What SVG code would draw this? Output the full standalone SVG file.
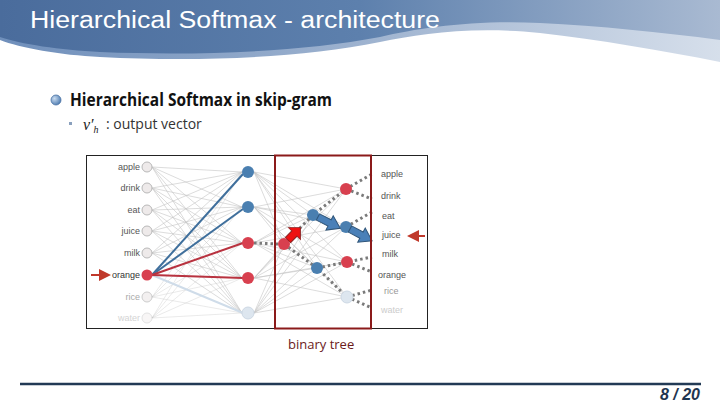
<svg xmlns="http://www.w3.org/2000/svg" width="720" height="405" viewBox="0 0 720 405">
<defs>
<linearGradient id="hdr" x1="0" y1="0" x2="1" y2="0">
<stop offset="0" stop-color="#4a6c9c"/><stop offset="0.5" stop-color="#5d80ad"/><stop offset="1" stop-color="#a9bad2"/>
</linearGradient>
<linearGradient id="hdr2" x1="0" y1="0" x2="1" y2="0">
<stop offset="0" stop-color="#6f8fbb"/><stop offset="0.5" stop-color="#9db2cf"/><stop offset="1" stop-color="#d6dfeb"/>
</linearGradient>
<radialGradient id="bul" cx="0.35" cy="0.35" r="0.7">
<stop offset="0" stop-color="#c9dcf0"/><stop offset="1" stop-color="#4d7bb0"/>
</radialGradient>
<marker id="rarrow" markerWidth="6" markerHeight="6" refX="5" refY="3" orient="auto" markerUnits="strokeWidth">
<path d="M0,0 L6,3 L0,6 Z" fill="#c0392b"/>
</marker>
<polygon id="fat" points="0,-3.5 13,-3.5 13,-8 25,0 13,8 13,3.5 0,3.5"/>
</defs>
<style>
.in{fill:#eeeaea;stroke:#b8b8b8;stroke-width:1}
.lbl{font-family:"Liberation Sans",Arial,sans-serif;font-size:9px;fill:#555}
.blue{fill:#4a7fb0}
.red{fill:#d8404f}
.light{fill:#dde6ef;stroke:#cdd8e4;stroke-width:1}
.mesh{stroke:#c4c4c4;stroke-width:0.6;fill:none}
.dot{stroke:#7a7a7a;stroke-width:3;stroke-dasharray:2.5 3;fill:none}
</style>
<rect width="720" height="405" fill="#fff"/>
<!-- header -->
<path d="M0,0 H720 V62 C660,50 600,40 540,33 C470,26 420,34 380,42 C300,58 200,62 100,57 C60,55 20,48 0,40 Z" fill="url(#hdr2)"/>
<path d="M0,0 H720 V40 C660,32 600,26 540,23 C470,20 420,28 380,37 C300,52 200,56 100,52 C60,50 20,44 0,37 Z" fill="url(#hdr)"/>
<text x="30" y="28" font-family="Liberation Sans,Arial,sans-serif" font-size="23" fill="#fff" textLength="410" lengthAdjust="spacingAndGlyphs">Hierarchical Softmax - architecture</text>
<!-- bullets -->
<circle cx="56" cy="100" r="5" fill="url(#bul)" stroke="#4a72a5" stroke-width="0.8"/>
<text x="70" y="106" font-family="'Open Sans','Noto Sans',sans-serif" font-weight="bold" font-size="18" fill="#111" textLength="262" lengthAdjust="spacingAndGlyphs">Hierarchical Softmax in skip-gram</text>
<rect x="69" y="122" width="3" height="3" fill="#8aa0bd"/>
<text x="83" y="130" font-family="'Liberation Serif',serif" font-style="italic" font-size="16" fill="#222">v′<tspan font-size="10" dy="3">h</tspan></text>
<text x="106" y="129" font-family="'Open Sans','Noto Sans',sans-serif" font-size="14" fill="#333">: output vector</text>
<!-- figure frame -->
<rect x="86.5" y="155.5" width="341" height="173" fill="#fff" stroke="#222" stroke-width="1"/>
<!-- connectors -->
<g id="connectors">
<path class="mesh" d="M152,167 L242,172 M152,167 L242,207 M152,167 L242,243 M152,167 L242,278 M152,167 L242,313
M152,188 L242,172 M152,188 L242,207 M152,188 L242,243 M152,188 L242,278 M152,188 L242,313
M152,210 L242,172 M152,210 L242,207 M152,210 L242,243 M152,210 L242,278 M152,210 L242,313
M152,231 L242,172 M152,231 L242,207 M152,231 L242,243 M152,231 L242,278 M152,231 L242,313
M152,253 L242,172 M152,253 L242,207 M152,253 L242,243 M152,253 L242,278 M152,253 L242,313"/>
<path class="mesh" opacity="0.6" d="M152,297 L242,172 M152,297 L242,207 M152,297 L242,243 M152,297 L242,278 M152,297 L242,313
M152,318 L242,172 M152,318 L242,207 M152,318 L242,243 M152,318 L242,278 M152,318 L242,313"/>
<path class="mesh" d="M254,172 L284,244 M254,172 L313,215 M254,172 L317,268 M254,172 L346,189 M254,172 L346,227 M254,172 L347,262 M254,172 L347,297
M254,207 L284,244 M254,207 L313,215 M254,207 L317,268 M254,207 L346,189 M254,207 L346,227 M254,207 L347,262 M254,207 L347,297
M254,243 L313,215 M254,243 L317,268 M254,243 L346,189 M254,243 L346,227 M254,243 L347,262 M254,243 L347,297
M254,278 L284,244 M254,278 L313,215 M254,278 L317,268 M254,278 L346,189 M254,278 L346,227 M254,278 L347,262 M254,278 L347,297
M254,313 L284,244 M254,313 L313,215 M254,313 L317,268 M254,313 L346,189 M254,313 L346,227 M254,313 L347,262 M254,313 L347,297"/>
<line x1="152" y1="275" x2="243" y2="313" stroke="#cfdce9" stroke-width="2"/>
<line x1="152" y1="275" x2="243" y2="174" stroke="#3f6f9c" stroke-width="2"/>
<line x1="152" y1="275" x2="243" y2="209" stroke="#3f6f9c" stroke-width="2"/>
<line x1="152" y1="275" x2="243" y2="243" stroke="#b8323f" stroke-width="2"/>
<line x1="152" y1="275" x2="243" y2="278" stroke="#b8323f" stroke-width="2"/>
<line x1="91" y1="275" x2="109" y2="275" stroke="#c0392b" stroke-width="2" marker-end="url(#rarrow)"/>
<path class="dot" d="M254,243 L278,244"/>
<path class="dot" d="M284,244 L313,215 L346,189 L372,174 M346,189 L372,199 M346,227 L372,212 M284,244 L317,268 L347,297 L372,290 M317,268 L347,262 L372,257 M347,262 L372,272 M347,297 L372,308"/>
<line x1="425" y1="236" x2="409" y2="236" stroke="#c0392b" stroke-width="2" marker-end="url(#rarrow)"/>
</g>
<!-- input layer -->
<g id="input-nodes">
<g id="in-apple"><circle class="in" cx="147" cy="167" r="5"/><text class="lbl" x="140" y="170" text-anchor="end">apple</text></g>
<g id="in-drink"><circle class="in" cx="147" cy="188" r="5"/><text class="lbl" x="140" y="191" text-anchor="end">drink</text></g>
<g id="in-eat"><circle class="in" cx="147" cy="210" r="5"/><text class="lbl" x="140" y="213" text-anchor="end">eat</text></g>
<g id="in-juice"><circle class="in" cx="147" cy="231" r="5"/><text class="lbl" x="140" y="234" text-anchor="end">juice</text></g>
<g id="in-milk"><circle class="in" cx="147" cy="253" r="5"/><text class="lbl" x="140" y="256" text-anchor="end">milk</text></g>
<g id="in-orange"><circle cx="147" cy="275" r="5.5" fill="#d8404f"/><text class="lbl" x="140" y="278" text-anchor="end" style="fill:#333">orange</text></g>
<g id="in-rice"><circle class="in" cx="147" cy="297" r="5" opacity="0.7"/><text class="lbl" x="140" y="300" text-anchor="end" style="fill:#aaa">rice</text></g>
<g id="in-water"><circle class="in" cx="147" cy="318" r="5" opacity="0.4"/><text class="lbl" x="140" y="321" text-anchor="end" style="fill:#d4d4d4">water</text></g>
</g>
<!-- hidden layer -->
<g id="hidden-nodes">
<g id="h1"><circle class="blue" cx="248" cy="172" r="6"/></g>
<g id="h2"><circle class="blue" cx="248" cy="207" r="6"/></g>
<g id="h3"><circle class="red" cx="248" cy="243" r="6"/></g>
<g id="h4"><circle class="red" cx="248" cy="278" r="6"/></g>
<g id="h5"><circle class="light" cx="248" cy="313" r="6"/></g>
</g>
<!-- tree -->
<g id="tree-nodes">
<g id="t-root"><circle class="red" cx="284" cy="244" r="6"/></g>
<g id="t-l"><circle class="blue" cx="313" cy="215" r="6"/></g>
<g id="t-r"><circle class="blue" cx="317" cy="268" r="6"/></g>
<g id="t-ll"><circle class="red" cx="346" cy="189" r="6"/></g>
<g id="t-lr"><circle class="blue" cx="346" cy="227" r="6"/></g>
<g id="t-rl"><circle class="red" cx="347" cy="262" r="6"/></g>
<g id="t-rr"><circle class="light" cx="347" cy="297" r="6"/></g>
</g>
<g id="path-arrows">
<use href="#fat" transform="translate(288,240) rotate(-45) scale(0.7,1.05)" fill="#ee1111" stroke="#8a1d1d" stroke-width="1"/>
<use href="#fat" transform="translate(318,217) rotate(27)" fill="#4a80b8" stroke="#2f5478" stroke-width="1"/>
<use href="#fat" transform="translate(350,229) rotate(28)" fill="#4a80b8" stroke="#2f5478" stroke-width="1"/>
</g>
<g id="output-labels">
<text class="lbl" x="381" y="177">apple</text>
<text class="lbl" x="381" y="199">drink</text>
<text class="lbl" x="382" y="219">eat</text>
<text class="lbl" x="382" y="238">juice</text>
<text class="lbl" x="382" y="257">milk</text>
<text class="lbl" x="378" y="278">orange</text>
<text class="lbl" x="384" y="294" style="fill:#999">rice</text>
<text class="lbl" x="381" y="313" style="fill:#ccc">water</text>
</g>
<rect x="275" y="155.5" width="96" height="173" fill="none" stroke="#8b1a1a" stroke-width="2"/>
<text x="288" y="349" font-family="'Open Sans','Noto Sans',sans-serif" font-size="13" fill="#6b1a1a">binary tree</text>
<!-- footer -->
<line x1="20" y1="384" x2="701" y2="384" stroke="#223a55" stroke-width="2.5"/>
<text x="700" y="400" text-anchor="end" font-family="'Liberation Sans',Arial,sans-serif" font-style="italic" font-weight="bold" font-size="16" fill="#1f3550" xml:space="preserve">8 / 20</text>
</svg>
